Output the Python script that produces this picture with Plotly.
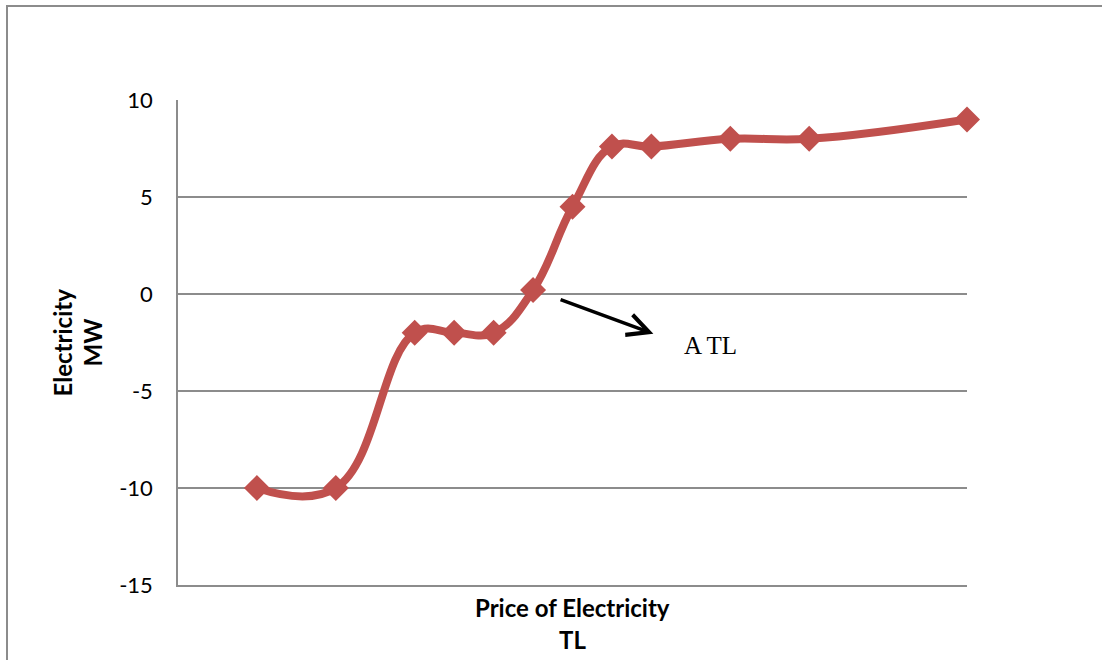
import plotly.graph_objects as go

# Supply curve: electricity (MW) against price (TL)
price = [2, 4, 6, 7, 8, 9, 10, 11, 12, 14, 16, 20]
electricity_mw = [-10, -10, -2, -2, -2, 0.2, 4.5, 7.6, 7.6, 8, 8, 9]

y_tick_vals = [10, 5, 0, -5, -10, -15]
y_tick_text = ["10", "5", "0", "-5", "-10", "-15"]

x_range = [0, 20]
y_range = [-15, 10]

LINE_RED = "#C0504D"
GRID = "#8C8C8C"
FONT = "Lato, 'Open Sans', sans-serif"
SERIF = "'Liberation Serif', 'Times New Roman', serif"

W, H = 1102, 660
ML, MR, MT, MB = 178, 135, 100, 75
PW, PH = W - ML - MR, H - MT - MB


def px_x(p):
    return (p - ML) / PW


def px_y(p):
    return 1 - (p - MT) / PH


fig = go.Figure()
fig.add_trace(go.Scatter(
    x=price,
    y=electricity_mw,
    mode="lines+markers",
    line=dict(color=LINE_RED, width=8, shape="spline", smoothing=1.2),
    marker=dict(symbol="diamond", size=20, color=LINE_RED),
    cliponaxis=False,
    showlegend=False,
    hoverinfo="x+y",
))


def label(text, x, y, size, angle=0, family=FONT, xref="paper", yref="paper"):
    return dict(x=x, y=y, xref=xref, yref=yref, text=text, showarrow=False,
                xanchor="center", yanchor="middle", textangle=angle,
                font=dict(family=family, size=size, color="#000000"))


annotations = [
    # arrow pointing to the "A TL" label
    dict(x=12.05, y=-2.05, ax=9.66, ay=-0.26, xref="x", yref="y",
         axref="x", ayref="y", text="", showarrow=True,
         arrowhead=5, arrowsize=1.2, arrowwidth=3.5, arrowcolor="#000000"),
    label("A TL", 13.49, -2.64, 25, family=SERIF, xref="x", yref="y"),
    # x-axis title (two lines)
    label("<b>Price of Electricity</b>", 0.5, px_y(607), 24),
    label("<b>TL</b>", 0.5, px_y(639), 24),
    # y-axis title (two rotated lines)
    label("<b>Electricity</b>", px_x(62), 0.5, 24, angle=-90),
    label("<b>MW</b>", px_x(92), 0.5, 24, angle=-90),
]

fig.update_layout(
    width=W,
    height=H,
    margin=dict(l=ML, r=MR, t=MT, b=MB),
    paper_bgcolor="white",
    plot_bgcolor="white",
    annotations=annotations,
    shapes=[dict(type="rect", xref="paper", yref="paper",
                 x0=px_x(7), x1=px_x(W + 20), y0=px_y(6), y1=px_y(H + 20),
                 line=dict(color="#8C8C8C", width=2), layer="below")],
)

fig.update_xaxes(
    range=x_range,
    showgrid=False,
    zeroline=False,
    showticklabels=False,
    ticks="",
    showline=True,
    linecolor=GRID,
    linewidth=1.5,
)

fig.update_yaxes(
    range=y_range,
    tickmode="array",
    tickvals=y_tick_vals,
    ticktext=y_tick_text,
    showgrid=True,
    gridcolor=GRID,
    gridwidth=1.5,
    zeroline=False,
    showline=True,
    linecolor=GRID,
    linewidth=1.5,
    ticks="",
    ticklabelstandoff=19,
    tickfont=dict(family=FONT, size=22, color="#000000"),
)

fig.write_html("out.html", config={"displayModeBar": False})
